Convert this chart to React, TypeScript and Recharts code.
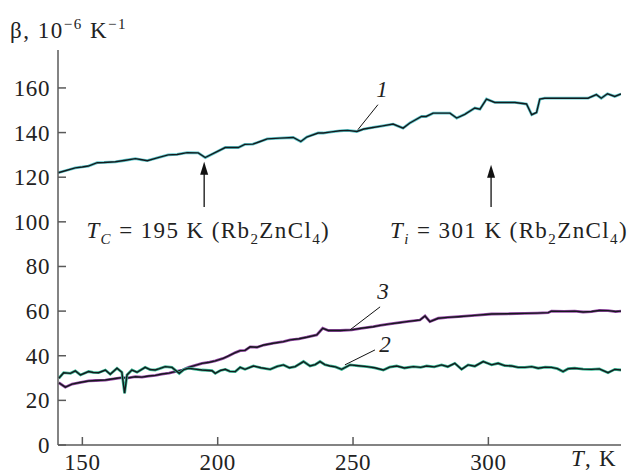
import React from "react";
import {
  LineChart,
  Line,
  XAxis,
  YAxis,
  ReferenceLine,
  ReferenceDot,
} from "recharts";

type Pt = { t: number; b: number };

// curve 1 (upper), T in K, beta in 1e-6 K^-1
const curve1T = [
  141.1, 144, 147.4, 150, 152.2, 155.5, 158, 162.2, 166, 169.6, 172, 174, 178,
  181.7, 185, 188.7, 192.8, 195.4, 199, 202.8, 207.6, 210, 213, 215.7, 218.3,
  223, 227.9, 230.7, 232.9, 237.1, 239, 242, 245.2, 248, 251.4, 254, 257.4, 261,
  264.8, 268.5, 271, 275.3, 277, 279.6, 285.8, 288.3, 291.3, 295, 296.9, 299.3,
  302.4, 309.8, 314.1, 316, 317.8, 319, 320.8, 336.8, 339.9, 341.7, 344, 346.7,
  349,
];
const curve1B = [
  122, 123, 124.2, 124.6, 125, 126.5, 126.6, 126.9, 127.6, 128.3, 127.8, 127.4,
  128.8, 130, 130.2, 131, 130.9, 128.8, 131, 133.3, 133.3, 134.7, 134.8, 136,
  137.2, 137.5, 137.8, 136, 138, 139.8, 139.8, 140.3, 140.8, 141, 140.5, 141.6,
  142.3, 143, 143.8, 142, 144.3, 147.2, 147.2, 148.7, 148.7, 146.5, 148.2, 151,
  150.5, 155, 153.5, 153.5, 152.8, 148, 149, 155, 155.4, 155.4, 157, 155.4,
  157.4, 156.2, 157.3,
];

// curve 3 (middle)
const curve3T = [
  141.3, 143.7, 146.2, 149, 152.3, 155, 158.5, 162.8, 164.6, 167, 169.6, 172,
  174.5, 177, 179.4, 182, 184.3, 187, 189.2, 192, 194.2, 197, 199.1, 202, 204,
  206.5, 208.3, 210.1, 212, 214.5, 217, 220.6, 224.3, 226.8, 230, 232.9, 236.6,
  238.8, 240.9, 245.2, 249.5, 253, 257.5, 260, 263.7, 267, 269.8, 274.7, 276.6,
  278.4, 281.5, 285, 288.9, 295, 301.2, 307, 313.5, 318, 322.1, 323.3, 328,
  331.9, 335, 338.1, 341, 344.2, 347, 349,
];
const curve3B = [
  27.9, 25.9, 27.3, 28, 28.7, 28.9, 29.1, 29.9, 30.2, 30.1, 30.6, 30.4, 30.9,
  31.2, 31.8, 32.2, 32.9, 33.6, 34.8, 35.8, 36.6, 37.1, 37.7, 38.8, 39.9, 41.4,
  42.3, 42.4, 44, 43.8, 44.8, 45.6, 46.3, 47.1, 47.6, 48.3, 49.3, 52.3, 51.3,
  51.3, 51.6, 52.3, 53, 53.6, 54.3, 54.8, 55.3, 56, 57.8, 55.3, 56.8, 57.2,
  57.5, 58.1, 58.7, 58.8, 59, 59.1, 59.3, 60, 59.9, 60, 59.6, 59.8, 60.3, 60.2,
  59.8, 60,
];

// curve 2 (lower)
const curve2T = [
  141.3, 143.1, 145.6, 147.4, 149.3, 152.3, 154, 156, 158.5, 160.3, 162.8,
  164.6, 165.6, 166.5, 168.3, 170.2, 173.2, 175, 176.9, 178.5, 180.6, 183.1,
  185.8, 187.5, 189.2, 191.5, 194.2, 197.9, 199.1, 201, 202.8, 204.5, 206.5,
  208.3, 210.1, 213.2, 216, 219.4, 222, 224.3, 226.5, 228.6, 231.7, 234.1, 236,
  237.8, 239.6, 241.5, 243.5, 245.8, 248.9, 252, 255.1, 258, 261.2, 263.5,
  266.1, 269, 272.3, 275, 277.2, 280, 282.7, 285, 287.6, 290.1, 292.5, 295,
  298.1, 301.2, 303.6, 306, 308.6, 311, 313.5, 316, 318.4, 321, 323.3, 325.5,
  327.6, 329.5, 331.9, 335, 338.1, 341, 344.2, 346.7, 349,
];
const curve2B = [
  29.9, 32.4, 32.1, 33.2, 31.4, 32.9, 32.5, 32.4, 33.6, 31.7, 34.4, 32.6, 23.2,
  31.4, 33.6, 32.6, 34.8, 33.8, 33.6, 34.2, 35.1, 34.8, 32.1, 33.8, 34.4, 34,
  33.6, 33.3, 32.1, 33.4, 33.9, 33, 32.9, 34.8, 33.9, 35.4, 34.6, 33.9, 35.2,
  35.9, 34.6, 35.1, 37.4, 35.4, 36, 37.4, 36, 35.4, 35, 33.9, 35.9, 35.5, 35.1,
  34.6, 33.6, 34.9, 35.4, 34.5, 35.1, 34.8, 35.4, 35, 35.9, 35.1, 36.6, 33.9,
  35.9, 35.3, 37.4, 35.9, 36.6, 35.6, 35.4, 34.8, 34.8, 35.1, 34.4, 34.9, 34.8,
  34.2, 32.9, 34.2, 34.4, 34, 33.9, 34.1, 32.4, 33.9, 33.6,
];

const xTicks = [150, 200, 250, 300];
const yTicks = [0, 20, 40, 60, 80, 100, 120, 140, 160];

const toPts = (ts: number[], bs: number[]): Pt[] =>
  ts.map((t, i) => ({ t, b: bs[i] }));

const d1 = toPts(curve1T, curve1B);
const d2 = toPts(curve2T, curve2B);
const d3 = toPts(curve3T, curve3B);

const FONT =
  "'Liberation Serif', 'Times New Roman', Tinos, 'DejaVu Serif', 'Nimbus Roman', FreeSerif, Times, serif";
const INK = "#222";
const AXIS = "#5a5a5a";

const YTick = (p: any) => (
  <g>
    <line x1={p.x + 10} x2={p.x + 18} y1={p.y} y2={p.y} stroke={AXIS} strokeWidth={1.5} />
    <text x={p.x + 2} y={p.y + 8} textAnchor="end" fontSize={23} letterSpacing={0.6} fontFamily={FONT} fill={INK}>
      {p.payload.value}
    </text>
  </g>
);

const XTick = (p: any) => (
  <g>
    <line x1={p.x} x2={p.x} y1={p.y} y2={p.y - 8} stroke={AXIS} strokeWidth={1.5} />
    <text x={p.x} y={p.y + 25} textAnchor="middle" fontSize={23} letterSpacing={0.6} fontFamily={FONT} fill={INK}>
      {p.payload.value}
    </text>
  </g>
);

const Arrowhead = (p: any) => (
  <polygon
    points={`${p.cx},${p.cy} ${p.cx - 4},${p.cy + 13} ${p.cx + 4},${p.cy + 13}`}
    fill="#111"
  />
);

const label = (txt: string) => (p: any) => (
  <text
    x={p.cx}
    y={p.cy}
    textAnchor="middle"
    fontSize={23}
    fontStyle="italic"
    fontFamily={FONT}
    fill={INK}
  >
    {txt}
  </text>
);

const transition = (sym: string, temp: string) => (p: any) => (
  <text x={p.cx} y={p.cy} fontSize={23} letterSpacing={1.4} fontFamily={FONT} fill={INK}>
    <tspan fontStyle="italic">T</tspan>
    <tspan fontStyle="italic" fontSize={15} dy={6}>
      {sym}
    </tspan>
    <tspan dy={-6}>{` = ${temp} K (Rb`}</tspan>
    <tspan fontSize={15} dy={6}>
      2
    </tspan>
    <tspan dy={-6}>ZnCl</tspan>
    <tspan fontSize={15} dy={6}>
      4
    </tspan>
    <tspan dy={-6}>)</tspan>
  </text>
);

const curve = (data: Pt[], halo: string, key: string) => [
  <Line
    key={key + "h"}
    data={data}
    dataKey="b"
    stroke={halo}
    strokeWidth={2.8}
    dot={false}
    activeDot={false}
    isAnimationActive={false}
    type="linear"
  />,
  <Line
    key={key + "c"}
    data={data}
    dataKey="b"
    stroke="#15191c"
    strokeWidth={1.4}
    dot={false}
    activeDot={false}
    isAnimationActive={false}
    type="linear"
  />,
];

export default function App() {
  return (
    <div
      style={{
        position: "absolute",
        left: 0,
        top: 0,
        width: 640,
        height: 475,
        background: "#fff",
        fontFamily: FONT,
        color: INK,
      }}
    >
      <div style={{ position: "absolute", left: 10, top: 9, fontSize: 23, letterSpacing: 1.5, lineHeight: "30px", whiteSpace: "nowrap" }}>
        β, 10<sup style={{ fontSize: 15, verticalAlign: 9 }}>−6</sup> K
        <sup style={{ fontSize: 15, verticalAlign: 9 }}>−1</sup>
      </div>
      <div style={{ position: "absolute", left: 571, top: 446, fontSize: 23, letterSpacing: 1.2, lineHeight: "26px", whiteSpace: "nowrap" }}>
        <i>T</i>, K
      </div>
      <LineChart width={640} height={475} margin={{ top: 50, right: 19, left: 0, bottom: 0 }}>
        <XAxis
          dataKey="t"
          type="number"
          domain={[141, 349]}
          allowDataOverflow
          ticks={xTicks}
          height={30}
          tickSize={0}
          tickMargin={0}
          tickLine={false}
          axisLine={{ stroke: AXIS, strokeWidth: 1.5 }}
          tick={<XTick />}
        />
        <YAxis
          type="number"
          domain={[0, 177]}
          allowDataOverflow
          ticks={yTicks}
          width={58}
          tickSize={0}
          tickMargin={10}
          tickLine={false}
          axisLine={{ stroke: AXIS, strokeWidth: 1.5 }}
          tick={<YTick />}
        />
        {curve(d1, "#5cc6ca", "c1")}
        {curve(d3, "#9548a6", "c3")}
        {curve(d2, "#38b895", "c2")}

        <ReferenceLine segment={[{ x: 195, y: 106.7 }, { x: 195, y: 122 }]} stroke="#111" strokeWidth={1.3} />
        <ReferenceDot x={195} y={126.9} shape={<Arrowhead />} />
        <ReferenceLine segment={[{ x: 301, y: 106.7 }, { x: 301, y: 121 }]} stroke="#111" strokeWidth={1.3} />
        <ReferenceDot x={301} y={125.6} shape={<Arrowhead />} />
        <ReferenceDot x={151.5} y={92.8} shape={transition("C", "195")} />
        <ReferenceDot x={263.7} y={92.8} shape={transition("i", "301")} />

        <ReferenceLine segment={[{ x: 259.2, y: 152.5 }, { x: 251.8, y: 141.3 }]} stroke="#111" strokeWidth={1} />
        <ReferenceDot x={260.7} y={156} shape={label("1")} />
        <ReferenceLine segment={[{ x: 260, y: 61.9 }, { x: 248.9, y: 51.6 }]} stroke="#111" strokeWidth={1} />
        <ReferenceDot x={261.1} y={65.5} shape={label("3")} />
        <ReferenceLine segment={[{ x: 258.1, y: 42.6 }, { x: 247, y: 35.9 }]} stroke="#111" strokeWidth={1} />
        <ReferenceDot x={261.8} y={41.7} shape={label("2")} />
      </LineChart>
    </div>
  );
}
